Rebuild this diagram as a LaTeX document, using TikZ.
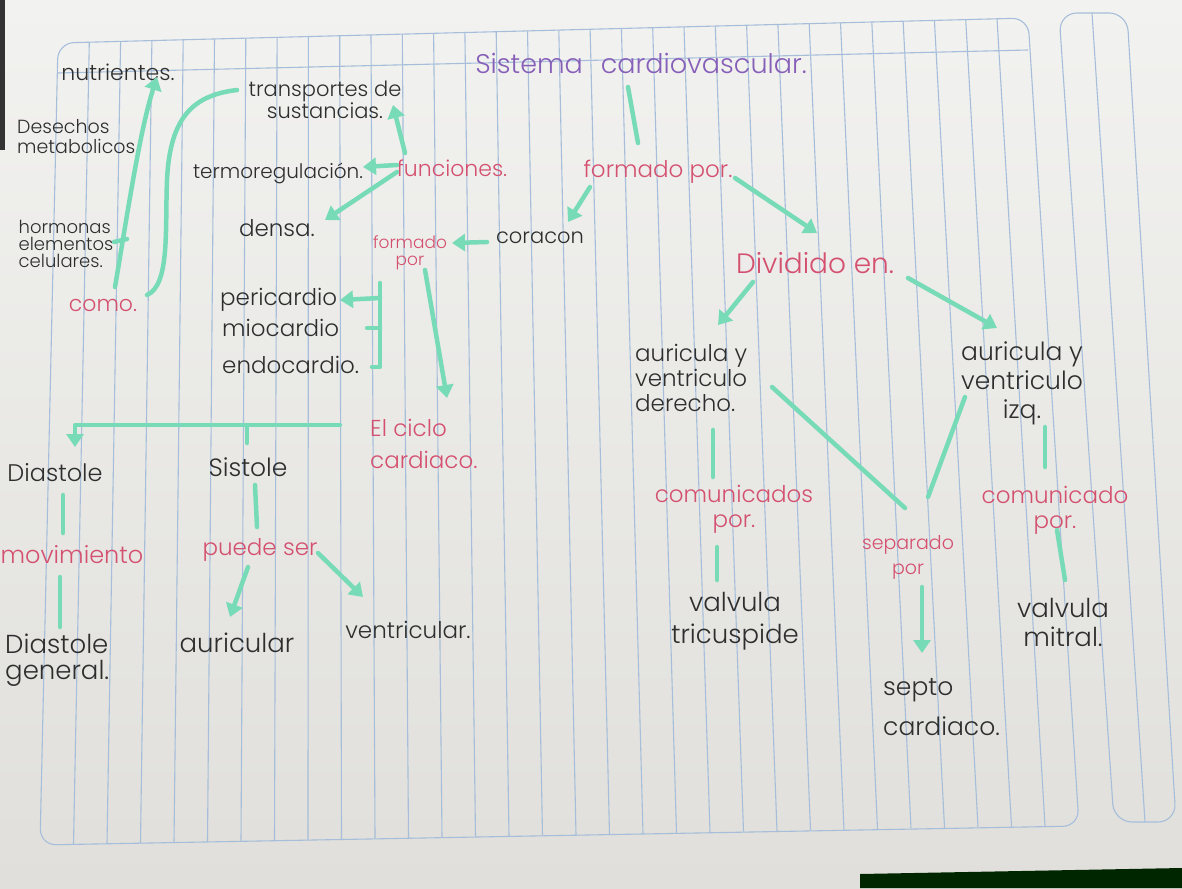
\documentclass[tikz,border=0pt]{standalone}
\usepackage{fontspec}
\setmainfont{Poppins}[UprightFont=* Light]
\usetikzlibrary{arrows.meta,calc}
\definecolor{ink}{HTML}{2E2E2E}
\definecolor{pinkink}{HTML}{D4506F}
\definecolor{purpink}{HTML}{8660B8}
\definecolor{mint}{HTML}{78DBB8}
\definecolor{rulecol}{HTML}{A6BEDA}
\definecolor{papertop}{HTML}{F2F2F0}
\definecolor{paperbot}{HTML}{E0DFDB}
\newcommand\fs[2]{\fontsize{#1}{#2}\selectfont}
\tikzset{
  bk/.style={text=ink, inner sep=0pt, align=center},
  pk/.style={text=pinkink, inner sep=0pt, align=center},
  conn/.style={draw=mint, line width=4.5pt, line cap=round, line join=round},
  arr/.style={conn, -{Triangle[length=13pt,width=17pt]}},
  rule/.style={draw=rulecol, line width=1.1pt},
}
\begin{document}
\begin{tikzpicture}[x=1pt,y=-1pt]
\useasboundingbox (0,0) rectangle (1182,888);
% paper
\shade[top color=papertop, bottom color=paperbot] (0,0) rectangle (1182,888);
\fill[black!80] (0,0) rectangle (5,150);
\fill[black!75!green!60!black] (860,874) -- (1182,868) -- (1182,888) -- (860,888) -- cycle;
% ruled lines
\foreach \k in {1,...,30} {
  \pgfmathsetmacro\xt{58+31.3*\k}
  \pgfmathsetmacro\yt{43-0.026*31.3*\k}
  \pgfmathsetmacro\xb{40+33.5*\k}
  \pgfmathsetmacro\yb{845-0.019*33.5*\k}
  \draw[rule] (\xt,\yt) -- (\xb,\yb);
}
\draw[rule, rounded corners=16pt] (58,43) -- (1028,18) -- (1079,826) -- (40,845) -- cycle;
\draw[rule] (58,73) -- (1028,50);
\draw[rule, rounded corners=18pt] (1059,13) -- (1127,13) -- (1176,822) -- (1114,822) -- cycle;
\draw[rule] (1092,13) -- (1145,822);

% ---- nodes ----
\node[text=purpink, inner sep=0pt, font=\fs{27}{30}] (title) at (641,63) {Sistema\hspace{18pt}cardiovascular.};
\node[pk, font=\fs{23}{26}] (f1) at (658,172) {formado por.};
\node[bk, font=\fs{21}{24}] (cor) at (540,238) {coracon};
\node[pk, font=\fs{28}{30}] (div) at (815,263) {Dividido en.};
\node[bk, font=\fs{23}{25}, anchor=west, align=left] (der) at (635,378) {auricula y\\ventriculo\\derecho.};
\node[bk, font=\fs{25}{29}] (izq) at (1022,383) {auricula y\\ventriculo\\izq.};
\node[pk, font=\fs{23}{25}] (com1) at (734,509) {comunicados\\por.};
\node[pk, font=\fs{23}{25}] (com2) at (1055,510) {comunicado\\por.};
\node[pk, font=\fs{19}{25}] (sep) at (908,557) {separado\\por};
\node[bk, font=\fs{26}{32}] (tric) at (735,621) {valvula\\tricuspide};
\node[bk, font=\fs{25}{40}, anchor=west, align=left] (septo) at (883,707) {septo\\cardiaco.};
\node[bk, font=\fs{26}{29}] (mitral) at (1063,622) {valvula\\mitral.};

\node[bk, font=\fs{22}{24}] (nut) at (118,72) {nutrientes.};
\node[bk, font=\fs{19}{20}, align=left] (des) at (78,137) {Desechos\\metabolicos.};
\node[bk, font=\fs{18}{17}, align=left] (hor) at (66,244) {hormonas\\elementos\\celulares.};
\node[pk, font=\fs{22}{24}] (como) at (103,305) {como.};
\node[bk, font=\fs{21}{17}] (trans) at (325,100) {transportes de\\sustancias.};
\node[bk, font=\fs{20}{22}] (termo) at (278,173) {termoregulación.};
\node[pk, font=\fs{22}{24}] (func) at (452,168) {funciones.};
\node[bk, font=\fs{23}{24}] (densa) at (277,228) {densa.};
\node[pk, font=\fs{17}{17}] (f2) at (410,253) {formado\\por};
\node[bk, font=\fs{23}{24}, anchor=west] (peri) at (220,300) {pericardio};
\node[bk, font=\fs{23}{24}, anchor=west] (mio) at (222,328) {miocardio};
\node[bk, font=\fs{23}{24}, anchor=west] (endo) at (222,365) {endocardio.};
\node[pk, font=\fs{23}{32}, anchor=west, align=left] (ciclo) at (370,444) {El ciclo\\cardiaco.};

\node[bk, font=\fs{24}{26}] (dias) at (55,473) {Diastole};
\node[bk, font=\fs{25}{26}] (sis) at (248,467) {Sistole};
\node[pk, font=\fs{24}{26}] (mov) at (72,555) {movimiento};
\node[pk, font=\fs{23}{26}] (pued) at (260,550) {puede ser};
\node[bk, font=\fs{26}{26}, anchor=west, align=left] (diasg) at (5,660) {Diastole\\general.};
\node[bk, font=\fs{26}{26}] (auric) at (237,643) {auricular};
\node[bk, font=\fs{23}{26}] (vent) at (408,630) {ventricular.};

% ---- connectors ----
\draw[conn] ($(title)+(-13,24)$) -- ($(f1)+(-20,-29)$);
\draw[arr] ($(f1)+(-68,15)$) -- ($(cor)+(28,-16)$);
\draw[arr] ($(f1)+(77,6)$) -- ($(div)+(2,-30)$);
\draw[arr] ($(cor)+(-53,4)$) -- ($(f2)+(42,-10)$);
\draw[arr] ($(f2)+(15,17)$) -- ($(ciclo.west)+(77,-46)$);
\draw[conn] ($(f2)+(-30,30)$) -- ($(endo.west)+(158,2)$) -- ($(endo.west)+(150,2)$);
\draw[arr] ($(f2)+(-30,45)$) -- ($(peri.west)+(120,0)$);
\draw[conn] ($(f2)+(-30,75)$) -- ($(mio.west)+(145,0)$);

\draw[arr] ($(func)+(-47,-15)$) -- ($(trans)+(68,5)$);
\draw[arr] ($(func)+(-55,-3)$) -- ($(termo)+(85,-6)$);
\draw[arr] ($(func)+(-55,4)$) -- ($(densa)+(48,-8)$);

\draw[arr] ($(como)+(12,-18)$) .. controls (128,210) and (140,130) .. ($(nut)+(39,5)$);
\draw[conn] ($(hor)+(48,-2)$) -- ($(hor)+(61,-5)$);
\draw[conn] ($(como)+(44,-10)$) .. controls (170,285) and (165,230) .. (167,180)
  .. controls (170,115) and (195,95) .. ($(trans)+(-88,-10)$);

\draw[arr] ($(ciclo.west)+(-30,-19)$) -| ($(dias)+(20,-26)$);
\draw[conn] ($(sis)+(-1,-42)$) -- ($(sis)+(-1,-24)$);
\draw[conn] ($(dias)+(8,22)$) -- ($(mov)+(-9,-22)$);
\draw[conn] ($(mov)+(-12,22)$) -- ($(diasg.west)+(55,-33)$);
\draw[conn] ($(sis)+(7,18)$) -- ($(pued)+(-3,-23)$);
\draw[arr] ($(pued)+(-12,17)$) -- ($(auric)+(-7,-26)$);
\draw[arr] ($(pued)+(58,3)$) -- ($(vent)+(-45,-33)$);

\draw[arr] ($(div)+(-62,19)$) -- ($(der.west)+(83,-53)$);
\draw[arr] ($(div)+(93,15)$) -- ($(izq)+(-25,-55)$);
\draw[conn] ($(der.west)+(78,52)$) -- ($(com1)+(-21,-32)$);
\draw[conn] ($(der.west)+(137,9)$) -- ($(sep)+(-3,-49)$);
\draw[conn] ($(izq)+(-57,14)$) -- ($(sep)+(20,-60)$);
\draw[conn] ($(izq)+(23,44)$) -- ($(com2)+(-10,-43)$);
\draw[conn] ($(com1)+(-17,38)$) -- ($(tric)+(-18,-41)$);
\draw[arr] ($(sep)+(14,30)$) -- ($(septo.west)+(39,-54)$);
\draw[conn] ($(com2)+(2,20)$) -- ($(mitral)+(2,-42)$);
\end{tikzpicture}
\end{document}
